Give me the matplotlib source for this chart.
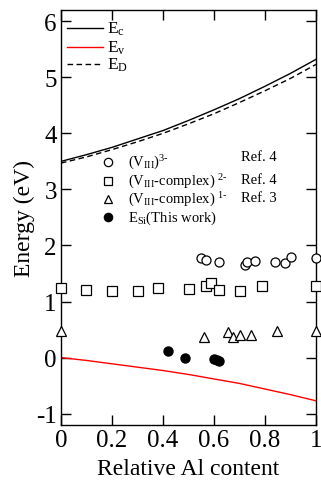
import numpy as np
import matplotlib.pyplot as plt

plt.rcParams['font.family'] = ['Liberation Serif', 'DejaVu Serif']
plt.rcParams['mathtext.fontset'] = 'custom'
plt.rcParams['mathtext.rm'] = 'Liberation Serif'
plt.rcParams['mathtext.it'] = 'Liberation Serif:italic'
plt.rcParams['axes.unicode_minus'] = False

# band edges vs relative Al content
x_band = [0.0, 0.1, 0.2, 0.3, 0.4, 0.5, 0.6, 0.7, 0.8, 0.9, 1.0]
Ec = [3.50, 3.62, 3.75, 3.90, 4.05, 4.23, 4.42, 4.62, 4.84, 5.07, 5.32]
ED = [3.47, 3.58, 3.71, 3.85, 4.00, 4.17, 4.35, 4.55, 4.76, 4.98, 5.23]
Ev = [0.00, -0.05, -0.11, -0.17, -0.23, -0.30, -0.38, -0.46, -0.56, -0.66, -0.77]

# (V_III)^3-  Ref. 4
x_v3 = [0.55, 0.57, 0.62, 0.72, 0.73, 0.76, 0.84, 0.88, 0.90, 1.0]
y_v3 = [1.77, 1.75, 1.70, 1.66, 1.71, 1.72, 1.70, 1.68, 1.79, 1.78]

# (V_III-complex)^2-  Ref. 4
x_v2 = [0.0, 0.10, 0.20, 0.30, 0.38, 0.50, 0.57, 0.59, 0.62, 0.70, 0.79, 1.0]
y_v2 = [1.25, 1.21, 1.18, 1.18, 1.24, 1.23, 1.27, 1.34, 1.21, 1.19, 1.28, 1.27]

# (V_III-complex)^1-  Ref. 3
x_v1 = [0.0, 0.56, 0.656, 0.676, 0.70, 0.746, 0.848, 1.0]
y_v1 = [0.48, 0.36, 0.46, 0.37, 0.41, 0.41, 0.48, 0.48]

# E_Si (this work)
x_si = [0.42, 0.485, 0.60, 0.61, 0.62]
y_si = [0.11, 0.00, -0.03, -0.05, -0.06]

line_labels = [r'E$_{\rm c}$', r'E$_{\rm v}$', r'E$_{\rm D}$']
point_labels = [r'(V$_{\rm III}$)$^{3\text{-}}$',
                r'(V$_{\rm III}$-complex) $^{2\text{-}}$',
                r'(V$_{\rm III}$-complex) $^{1\text{-}}$',
                r'E$_{\rm Si}$(This work)']
ref_labels = ['Ref. 4', 'Ref. 4', 'Ref. 3']

fig = plt.figure(figsize=(3.21, 4.89), dpi=100)
ax = fig.add_axes([0.19, 0.129, 0.7945, 0.8485])

ax.plot(x_band, Ec, '-', color='black', lw=1.0)
ax.plot(x_band, Ev, '-', color='red', lw=1.0)
ax.plot(x_band, ED, '--', color='black', lw=1.0, dashes=(4, 2.5))

ms = 6.5
ax.plot(x_v3, y_v3, 'o', mfc='white', mec='black', ms=ms, mew=0.9, ls='none',
        clip_on=False, zorder=5)
ax.plot(x_v2, y_v2, 's', mfc='white', mec='black', ms=ms, mew=0.9, ls='none',
        clip_on=False, zorder=5)
ax.plot(x_v1, y_v1, '^', mfc='white', mec='black', ms=ms, mew=0.9, ls='none',
        clip_on=False, zorder=5)
ax.plot(x_si, y_si, 'o', color='black', ms=ms, ls='none', zorder=5)

# ---- legend for the band lines (hand placed) ----
tr = ax.transAxes
for lab, yy, col, ls in zip(line_labels, [0.957, 0.911, 0.870],
                            ['black', 'red', 'black'], ['-', '-', '--']):
    ax.plot([0.023, 0.164], [yy, yy], color=col, ls=ls, lw=1.0, transform=tr,
            dashes=(4, 2.5) if ls == '--' else (None, None))
    ax.text(0.182, yy, lab, transform=tr, fontsize=12.5, va='center')

# ---- legend for the symbols ----
mk = [dict(marker='o', mfc='white', mec='black'),
      dict(marker='s', mfc='white', mec='black'),
      dict(marker='^', mfc='white', mec='black'),
      dict(marker='o', mfc='black', mec='black')]
rows = [0.634, 0.589, 0.545, 0.501]
for lab, yy, m in zip(point_labels, rows, mk):
    ax.plot([0.184], [yy], ls='none', ms=6, mew=0.9, transform=tr, **m)
    ax.text(0.262, yy, lab, transform=tr, fontsize=10.5, va='center')
for lab, yy in zip(ref_labels, [0.648, 0.592, 0.548]):
    ax.text(0.705, yy, lab, transform=tr, fontsize=10.5, va='center')

ax.set_xlim(0, 1)
ax.set_ylim(-1.2, 6.2)
ax.set_xticks([0, 0.2, 0.4, 0.6, 0.8, 1.0])
ax.set_xticklabels(['0', '0.2', '0.4', '0.6', '0.8', '1'])
ax.set_yticks([-1, 0, 1, 2, 3, 4, 5, 6])
ax.tick_params(direction='in', length=7, width=1, top=True, right=True,
               labelsize=18, pad=3)
for s in ax.spines.values():
    s.set_linewidth(1.0)

ax.set_xlabel('Relative Al content', fontsize=17, labelpad=5)
ax.set_ylabel('Energy (eV)', fontsize=17, labelpad=1)

fig.savefig('out.png', dpi=100)
